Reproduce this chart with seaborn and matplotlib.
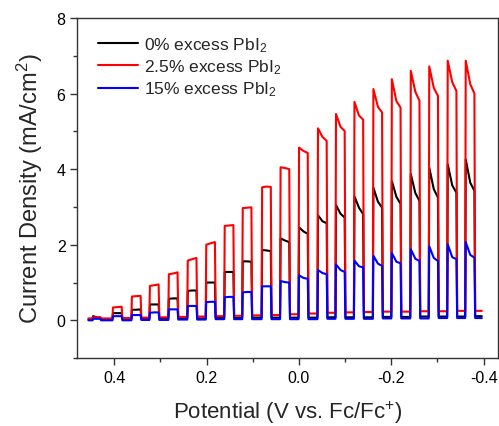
import numpy as np
import pandas as pd
import matplotlib
matplotlib.use("Agg")
import matplotlib.pyplot as plt
from matplotlib.ticker import MultipleLocator
import seaborn as sns

# ---- data ----
series_names = ["0% excess PbI$_2$", "2.5% excess PbI$_2$", "15% excess PbI$_2$"]
colors = ["#000000", "#ff0000", "#0000ff"]

scan_start = 0.456
scan_end = -0.396
pulse_on = [0.447, 0.404, 0.363, 0.324, 0.283, 0.242, 0.202, 0.162, 0.123, 0.081, 0.041,
            0.001, -0.040, -0.079, -0.119, -0.160, -0.200, -0.241, -0.281, -0.321, -0.360]
pulse_off = [0.430, 0.384, 0.343, 0.304, 0.263, 0.222, 0.182, 0.142, 0.103, 0.061, 0.021,
             -0.019, -0.060, -0.099, -0.139, -0.180, -0.220, -0.261, -0.301, -0.341, -0.380]

black_peak = [0.11, 0.19, 0.28, 0.42, 0.57, 0.78, 1.00, 1.28, 1.56, 1.86, 2.17, 2.46, 2.78, 3.05, 3.28, 3.51, 3.68, 3.87, 4.04, 4.13, 4.26]
black_knee = [0.08, 0.19, 0.28, 0.42, 0.58, 0.79, 1.00, 1.28, 1.56, 1.85, 2.11, 2.35, 2.62, 2.82, 2.98, 3.14, 3.27, 3.37, 3.47, 3.57, 3.64]
black_end = [0.07, 0.19, 0.29, 0.42, 0.58, 0.79, 1.00, 1.28, 1.55, 1.83, 2.07, 2.29, 2.57, 2.72, 2.81, 2.98, 3.08, 3.16, 3.25, 3.38, 3.43]
black_dark = [0.03, 0.03, 0.03, 0.04, 0.04, 0.05, 0.05, 0.06, 0.06, 0.07, 0.07, 0.07, 0.07, 0.08, 0.08, 0.08, 0.09, 0.09, 0.10, 0.10, 0.10, 0.11]

red_peak = [0.08, 0.34, 0.63, 0.91, 1.22, 1.58, 2.00, 2.50, 2.97, 3.52, 4.05, 4.57, 5.08, 5.46, 5.78, 6.12, 6.38, 6.60, 6.72, 6.87, 6.87]
red_knee = [0.08, 0.35, 0.64, 0.93, 1.24, 1.62, 2.04, 2.51, 2.98, 3.54, 4.03, 4.48, 4.85, 5.12, 5.42, 5.65, 5.80, 6.05, 6.15, 6.30, 6.25]
red_end = [0.08, 0.36, 0.65, 0.95, 1.27, 1.65, 2.07, 2.52, 2.99, 3.53, 4.00, 4.43, 4.75, 5.01, 5.31, 5.50, 5.63, 5.81, 5.94, 6.07, 6.00]
red_dark = [0.05, 0.05, 0.06, 0.07, 0.08, 0.09, 0.10, 0.11, 0.12, 0.13, 0.14, 0.16, 0.18, 0.20, 0.21, 0.22, 0.23, 0.23, 0.24, 0.24, 0.25, 0.25]

blue_peak = [0.04, 0.11, 0.14, 0.20, 0.29, 0.38, 0.48, 0.61, 0.74, 0.90, 1.04, 1.19, 1.33, 1.48, 1.58, 1.71, 1.78, 1.88, 1.96, 2.01, 2.07]
blue_knee = [0.04, 0.11, 0.14, 0.21, 0.29, 0.38, 0.49, 0.62, 0.75, 0.90, 1.01, 1.12, 1.25, 1.33, 1.43, 1.50, 1.55, 1.63, 1.65, 1.67, 1.73]
blue_end = [0.04, 0.11, 0.14, 0.21, 0.29, 0.38, 0.49, 0.62, 0.75, 0.90, 1.00, 1.10, 1.22, 1.28, 1.40, 1.44, 1.51, 1.57, 1.57, 1.62, 1.66]
blue_dark = [0.00, 0.00, 0.00, 0.01, 0.01, 0.02, 0.02, 0.03, 0.03, 0.03, 0.03, 0.03, 0.03, 0.04, 0.04, 0.04, 0.05, 0.05, 0.05, 0.06, 0.06, 0.06]

x_ticks = [0.4, 0.2, 0.0, -0.2, -0.4]
y_ticks = [0, 2, 4, 6, 8]


def build_trace(peak, knee, end, dark):
    v = [scan_start]
    j = [dark[0]]
    for k in range(len(pulse_on)):
        on, off = pulse_on[k], pulse_off[k]
        w = on - off
        v += [on, on - 0.06 * w, on - 0.55 * w, off, off - 0.08 * w]
        j += [dark[k], peak[k], knee[k], end[k], dark[k + 1]]
    v.append(scan_end)
    j.append(dark[-1])
    return v, j


rows = []
for name, (pk, kn, en, dk) in zip(series_names, [
        (black_peak, black_knee, black_end, black_dark),
        (red_peak, red_knee, red_end, red_dark),
        (blue_peak, blue_knee, blue_end, blue_dark)]):
    v, j = build_trace(pk, kn, en, dk)
    for i, (a, b) in enumerate(zip(v, j)):
        rows.append({"V": a, "J": b, "series": name, "idx": i})
df = pd.DataFrame(rows)

sns.set_style("ticks")
plt.rcParams["font.family"] = ["Liberation Sans", "DejaVu Sans"]
plt.rcParams["mathtext.default"] = "regular"

fig = plt.figure(figsize=(4.99, 4.27), dpi=100)
ax = fig.add_axes([0.155, 0.159, 0.842, 0.7965])

sns.lineplot(data=df, x="V", y="J", hue="series", palette=colors, sort=False,
             estimator=None, units="series", linewidth=1.5, ax=ax, legend=True)

ax.set_xlim(0.48, -0.43)
ax.set_ylim(-1, 8)
ax.set_xticks(x_ticks)
ax.set_xticklabels([f"{t:.1f}" for t in x_ticks])
ax.set_yticks(y_ticks)
ax.xaxis.set_minor_locator(MultipleLocator(0.1))
ax.yaxis.set_minor_locator(MultipleLocator(1))
ax.tick_params(which="major", direction="out", length=5, width=1, colors="#333333",
               labelcolor="black", labelsize=11.5)
ax.tick_params(which="minor", direction="out", length=3, width=1, colors="#333333")
for s in ax.spines.values():
    s.set_visible(True)
    s.set_color("#333333")
    s.set_linewidth(1)

ax.set_xlabel("Potential (V vs. Fc/Fc$^{+}$)", fontsize=16, labelpad=10)
ax.set_ylabel("Current Density (mA/cm$^{2}$)", fontsize=17, labelpad=8)

leg = ax.legend(loc="upper left", frameon=False, fontsize=12.5, handlelength=2.3,
                handletextpad=0.35, labelspacing=0.2, borderaxespad=0.3,
                bbox_to_anchor=(0.02, 0.985))
for line in leg.get_lines():
    line.set_linewidth(1.5)

fig.savefig("out.png", dpi=100)
